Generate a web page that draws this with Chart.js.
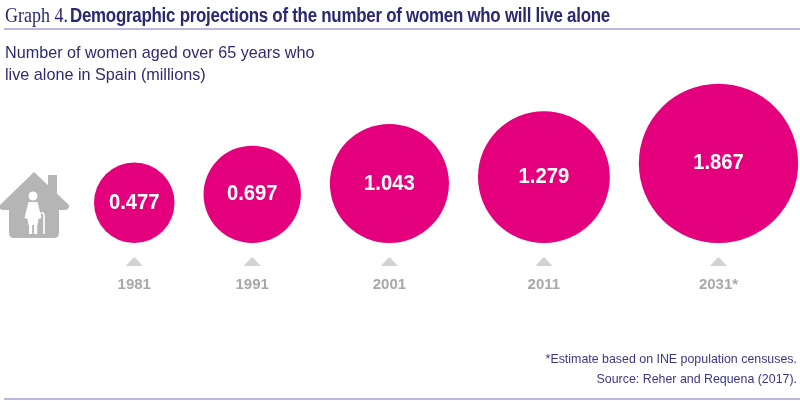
<!DOCTYPE html>
<html>
<head>
<meta charset="utf-8">
<script src="https://cdn.jsdelivr.net/npm/chart.js@4.4.1/dist/chart.umd.min.js"></script>
<style>
  html, body { margin: 0; padding: 0; background: #ffffff; }
  #wrap { position: relative; width: 800px; height: 401px; overflow: hidden; }
  #chartCanvas { position: absolute; left: 0; top: 0; }
  .tnum { position: absolute; left: 5px; top: 3px; white-space: nowrap; color: #2b2870; transform-origin: 0 50%; font-family: "Liberation Serif", "DejaVu Serif", serif; font-size: 21px; }
  .ttxt { position: absolute; left: 70px; top: 4px; white-space: nowrap; color: #2b2870; transform-origin: 0 50%; font-family: "Liberation Sans", Arial, sans-serif; font-weight: bold; font-size: 19.5px; letter-spacing: -0.3px; }
  .rule { position: absolute; left: 4px; right: 0; height: 2px; background: #bdb7de; }
  .subtitle { position: absolute; left: 5px; top: 41px; font-family: "Liberation Sans", Arial, sans-serif; font-size: 16.2px; line-height: 22px; color: #2f2b6e; }
  .foot { position: absolute; right: 3px; top: 349px; text-align: right; font-family: "Liberation Sans", Arial, sans-serif; font-size: 12.4px; line-height: 20px; color: #3b3788; }
</style>
</head>
<body>
<div id="wrap">
  <canvas id="chartCanvas" width="800" height="401"></canvas>
  <div class="tnum" id="titleNum">Graph 4.</div>
  <div class="ttxt" id="titleTxt">Demographic projections of the number of women who will live alone</div>
  <div class="rule" style="top:28px"></div>
  <div class="subtitle">Number of women aged over 65 years who<br>live alone in Spain (millions)</div>
  <div class="foot">*Estimate based on INE population censuses.<br>Source: Reher and Requena (2017).</div>
  <div class="rule" style="top:398px"></div>
</div>
<script>
// ---- Data ----
const years = ['1981', '1991', '2001', '2011', '2031*'];
const womenLivingAlone = [0.477, 0.697, 1.043, 1.279, 1.867]; // millions
const valueLabels = ['0.477', '0.697', '1.043', '1.279', '1.867'];

// condensed title pieces: squeeze to the reference widths
function fitWidth(id, target) {
  const el = document.getElementById(id);
  const w = el.getBoundingClientRect().width;
  if (w > 0) el.style.transform = 'scaleX(' + (target / w) + ')';
}
fitWidth('titleNum', 63);
fitWidth('titleTxt', 540);

// ---- Layout constants (pixels; scales are set so 1 unit = 1 px) ----
const RADIUS_FACTOR = 58.3;   // r = k * sqrt(value)  (bubble area proportional to value)
const GAP = 29;               // gap between neighbouring bubbles
const START_X = 94;           // left edge of first bubble
const BASE_Y = 243;           // common bottom of bubbles
const TOP_Y = 43;

const radii = womenLivingAlone.map(v => RADIUS_FACTOR * Math.sqrt(v));
const points = [];
let cursor = START_X;
radii.forEach((r, i) => {
  const cx = cursor + r;
  points.push({ x: cx, y: r, r: r, v: womenLivingAlone[i] });
  cursor = cx + r + GAP;
});

const MAGENTA = '#e4007c';

const houseIcon = {
  id: 'houseIcon',
  afterDraw(chart) {
    const ctx = chart.ctx;
    ctx.save();
    ctx.fillStyle = '#b5b5b5';
    ctx.fillRect(48, 175, 9, 22);
    ctx.beginPath();
    ctx.moveTo(34, 172);
    ctx.lineTo(69, 205);
    ctx.quadraticCurveTo(70, 210, 64, 210);
    ctx.lineTo(4, 210);
    ctx.quadraticCurveTo(-2, 210, 0, 205);
    ctx.closePath();
    ctx.fill();
    const bx = 9, by = 200, bw = 50, bh = 38, rr = 5;
    ctx.beginPath();
    ctx.moveTo(bx, by);
    ctx.lineTo(bx + bw, by);
    ctx.lineTo(bx + bw, by + bh - rr);
    ctx.quadraticCurveTo(bx + bw, by + bh, bx + bw - rr, by + bh);
    ctx.lineTo(bx + rr, by + bh);
    ctx.quadraticCurveTo(bx, by + bh, bx, by + bh - rr);
    ctx.closePath();
    ctx.fill();
    ctx.fillStyle = '#ffffff';
    ctx.beginPath();
    ctx.arc(33, 196, 4.5, 0, Math.PI * 2);
    ctx.fill();
    ctx.beginPath();
    ctx.moveTo(28.5, 202);
    ctx.lineTo(37.5, 202);
    ctx.lineTo(41.5, 218);
    ctx.lineTo(38.5, 219);
    ctx.lineTo(37.5, 225);
    ctx.lineTo(28.5, 225);
    ctx.lineTo(27.5, 219);
    ctx.lineTo(24.5, 218);
    ctx.closePath();
    ctx.fill();
    ctx.fillRect(29, 224, 3.2, 10);
    ctx.fillRect(34, 224, 3.2, 10);
    ctx.strokeStyle = '#ffffff';
    ctx.lineWidth = 1.6;
    ctx.beginPath();
    ctx.moveTo(40, 214);
    ctx.quadraticCurveTo(43, 211, 44, 215);
    ctx.lineTo(44, 234);
    ctx.stroke();
    ctx.restore();
  }
};

const bubbleLabels = {
  id: 'bubbleLabels',
  afterDatasetsDraw(chart) {
    const ctx = chart.ctx;
    const meta = chart.getDatasetMeta(0);
    ctx.save();
    meta.data.forEach((el, i) => {
      ctx.fillStyle = '#ffffff';
      ctx.font = 'bold 22px "Liberation Sans", Arial, sans-serif';
      ctx.textAlign = 'center';
      ctx.textBaseline = 'middle';
      ctx.save();
      ctx.translate(el.x, el.y);
      ctx.scale(0.92, 1);
      ctx.fillText(valueLabels[i], 0, 0);
      ctx.restore();
      ctx.fillStyle = '#d2d2d4';
      ctx.beginPath();
      ctx.moveTo(el.x - 8.5, 266);
      ctx.lineTo(el.x + 8.5, 266);
      ctx.lineTo(el.x + 1.2, 258);
      ctx.quadraticCurveTo(el.x, 257, el.x - 1.2, 258);
      ctx.closePath();
      ctx.fill();
      ctx.fillStyle = '#a8a8a8';
      ctx.font = 'bold 15px "Liberation Sans", Arial, sans-serif';
      ctx.fillText(years[i], el.x, 285);
    });
    ctx.restore();
  }
};

new Chart(document.getElementById('chartCanvas'), {
  type: 'bubble',
  data: {
    labels: years,
    datasets: [{
      label: 'Women over 65 living alone (millions)',
      data: points,
      backgroundColor: MAGENTA,
      borderWidth: 0,
      hoverRadius: 0,
      clip: false
    }]
  },
  options: {
    responsive: false,
    animation: false,
    events: [],
    devicePixelRatio: 1,
    layout: { autoPadding: false, padding: { left: 0, right: 0, top: TOP_Y, bottom: 401 - BASE_Y } },
    plugins: { legend: { display: false }, tooltip: { enabled: false } },
    scales: {
      x: { type: 'linear', display: false, min: 0, max: 800 },
      y: { type: 'linear', display: false, min: 0, max: BASE_Y - TOP_Y }
    }
  },
  plugins: [houseIcon, bubbleLabels]
});
</script>
</body>
</html>
